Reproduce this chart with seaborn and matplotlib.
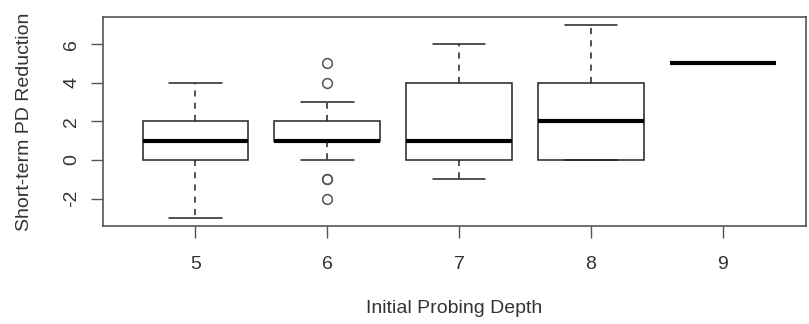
import matplotlib
matplotlib.use("Agg")
import matplotlib.pyplot as plt
import seaborn as sns
import pandas as pd

depth_5 = [-3, 0, 0, 0, 1, 1, 1, 2, 2, 2, 4]
depth_6 = [-2, -1, -1, 0, 1, 1, 1, 1, 1, 1, 1, 1, 2, 2, 2, 2, 3, 4, 5]
depth_7 = [-1, 0, 0, 1, 1, 1, 4, 4, 6]
depth_8 = [0, 0, 0, 2, 2, 4, 4, 4, 7]
depth_9 = [5, 5, 5]
categories = ["5", "6", "7", "8", "9"]
y_ticks = [-2, 0, 2, 4, 6]

groups = [depth_5, depth_6, depth_7, depth_8, depth_9]
df = pd.DataFrame({
    "depth": [c for c, g in zip(categories, groups) for _ in g],
    "reduction": [v for g in groups for v in g],
})

sns.set_style("white")
plt.rcParams["font.family"] = ["Liberation Sans", "DejaVu Sans"]

fig = plt.figure(figsize=(8.09, 3.24), dpi=100)
ax = fig.add_axes([0.1273, 0.3034, 0.869, 0.644])

line_c = "#222222"
sns.boxplot(
    data=df, x="depth", y="reduction", order=categories, ax=ax,
    width=0.8, color="white", linecolor=line_c, linewidth=1.1,
    whis=1.5,
    medianprops=dict(color="black", linewidth=3),
    whiskerprops=dict(linestyle=(0, (4, 4)), color=line_c, linewidth=1.1),
    capprops=dict(color=line_c, linewidth=1.1),
    flierprops=dict(marker="o", markersize=7, markerfacecolor="none",
                    markeredgecolor="#555555", markeredgewidth=1.1),
)

ax.set_xlim(-0.70, 4.63)
ax.set_ylim(-3.4, 7.4)
ax.set_yticks(y_ticks)
ax.set_yticklabels([str(t) for t in y_ticks], rotation=90, va="center")
ax.set_xticks(range(len(categories)))
ax.set_xticklabels(categories)

for s in ax.spines.values():
    s.set_visible(True)
    s.set_color("#555555")
    s.set_linewidth(1.2)

text_c = "#333333"
ax.tick_params(axis="both", which="both", direction="out", length=8.5, width=1.0,
               color="#555555", labelsize=14, labelcolor=text_c,
               bottom=True, left=True, top=False, right=False)
ax.tick_params(axis="x", pad=13)
ax.tick_params(axis="y", pad=8)

ax.set_xlabel("Initial Probing Depth", fontsize=14, color=text_c, labelpad=20)
ax.set_ylabel("Short-term PD Reduction", fontsize=14, color=text_c, labelpad=22)

fig.savefig("out.png", dpi=100)
